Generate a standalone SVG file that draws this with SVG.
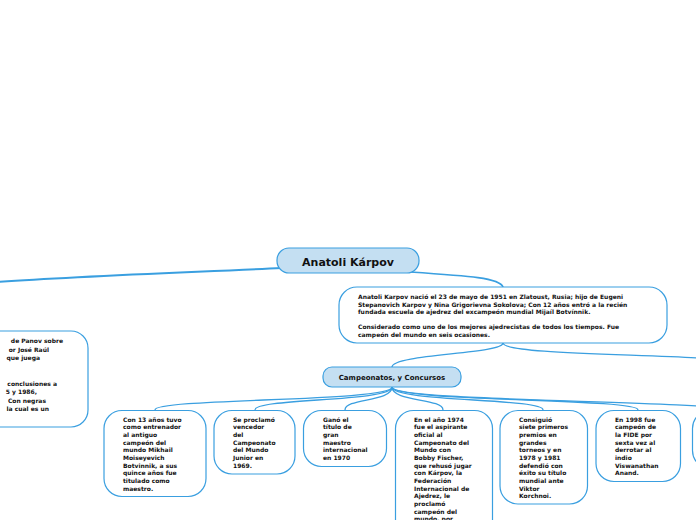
<svg xmlns="http://www.w3.org/2000/svg" width="696" height="520" viewBox="0 0 696 520">
<style>
.box{fill:#ffffff;stroke:#3a9fe0;stroke-width:1.2}
.hub{fill:#c4dff2;stroke:#3a9fe0;stroke-width:1.2}
.t{font-family:"DejaVu Sans","Liberation Sans",sans-serif;font-weight:bold;font-size:6px;fill:#111}
.c{fill:none;stroke:#3a9fe0;stroke-linecap:round}
</style>
<rect width="696" height="520" fill="#ffffff"/>
<g id="connectors">
<path class="c" stroke-width="2" d="M282,268 C200,272 80,276 -2,282"/>
<path class="c" stroke-width="1.6" d="M410,272 C470,276 500,278 503,287"/>
<path class="c" stroke-width="1.4" d="M503,343 C503,354 392,354 392,367"/>
<path class="c" stroke-width="1.4" d="M503,343 C503,354 640,354 698,358"/>
<path class="c" stroke-width="1.3" d="M392,387 C392,402 155,398 155,410"/>
<path class="c" stroke-width="1.3" d="M392,387 C392,402 255,398 255,410"/>
<path class="c" stroke-width="1.3" d="M392,387 C392,402 345,398 345,410"/>
<path class="c" stroke-width="1.3" d="M392,387 C392,402 443,398 443,410"/>
<path class="c" stroke-width="1.3" d="M392,387 C392,402 543,398 543,410"/>
<path class="c" stroke-width="1.3" d="M392,387 C392,402 638,398 638,410"/>
<path class="c" stroke-width="1.3" d="M392,387 C392,402 700,400 730,410"/>
</g>
<g id="root">
<rect class="hub" x="277" y="248" width="142" height="25" rx="12"/>
<text x="348" y="265.5" text-anchor="middle" style="font-family:'DejaVu Sans','Liberation Sans',sans-serif;font-weight:bold;font-size:11px;fill:#111">Anatoli Kárpov</text>
</g>
<g id="left-node">
<rect class="box" x="-40" y="331" width="128" height="96" rx="17"/>
<text class="t" text-anchor="end"><tspan x="63" y="343">de Panov sobre</tspan><tspan x="49" y="351.5">or José Raúl</tspan><tspan x="40" y="360">que juega</tspan><tspan x="57" y="385.5">conclusiones a</tspan><tspan x="37" y="394">5 y 1986,</tspan><tspan x="46" y="402.5">Con negras</tspan><tspan x="49" y="411">la cual es un</tspan></text>
</g>
<g id="info">
<rect class="box" x="339" y="287" width="328" height="56" rx="18"/>
<text class="t"><tspan x="358" y="299">Anatoli Karpov nació el 23 de mayo de 1951 en Zlatoust, Rusia; hijo de Eugeni</tspan><tspan x="358" y="306.5">Stepanovich Karpov y Nina Grigorievna Sokolova; Con 12 años entró a la recién</tspan><tspan x="358" y="314">fundada escuela de ajedrez del excampeón mundial Mijaíl Botvínnik.</tspan><tspan x="358" y="329">Considerado como uno de los mejores ajedrecistas de todos los tiempos. Fue</tspan><tspan x="358" y="336.5">campeón del mundo en seis ocasiones.</tspan></text>
</g>
<g id="campeonatos">
<rect class="hub" x="323" y="367" width="138" height="20" rx="9"/>
<text x="392" y="379.5" text-anchor="middle" style="font-family:'DejaVu Sans','Liberation Sans',sans-serif;font-weight:bold;font-size:7px;fill:#111">Campeonatos, y Concursos</text>
</g>
<g id="n1">
<rect class="box" x="104" y="410.5" width="102" height="86" rx="18"/>
<text class="t"><tspan x="123" y="421.5">Con 13 años tuvo</tspan><tspan x="123" y="429.2">como entrenador</tspan><tspan x="123" y="436.8">al antiguo</tspan><tspan x="123" y="444.5">campeón del</tspan><tspan x="123" y="452.2">mundo Mikhail</tspan><tspan x="123" y="459.8">Moiseyevich</tspan><tspan x="123" y="467.5">Botvinnik, a sus</tspan><tspan x="123" y="475.2">quince años fue</tspan><tspan x="123" y="482.8">titulado como</tspan><tspan x="123" y="490.5">maestro.</tspan></text>
</g>
<g id="n2">
<rect class="box" x="214" y="410.5" width="81" height="63.5" rx="18"/>
<text class="t"><tspan x="233" y="421.5">Se proclamó</tspan><tspan x="233" y="429.2">vencedor</tspan><tspan x="233" y="436.8">del</tspan><tspan x="233" y="444.5">Campeonato</tspan><tspan x="233" y="452.2">del Mundo</tspan><tspan x="233" y="459.8">Junior en</tspan><tspan x="233" y="467.5">1969.</tspan></text>
</g>
<g id="n3">
<rect class="box" x="303.5" y="410.5" width="83" height="56" rx="18"/>
<text class="t"><tspan x="323" y="421.5">Ganó el</tspan><tspan x="323" y="429.2">título de</tspan><tspan x="323" y="436.8">gran</tspan><tspan x="323" y="444.5">maestro</tspan><tspan x="323" y="452.2">internacional</tspan><tspan x="323" y="459.8">en 1970</tspan></text>
</g>
<g id="n4">
<rect class="box" x="395.5" y="410.5" width="97" height="130" rx="18"/>
<text class="t"><tspan x="414" y="421.5">En el año 1974</tspan><tspan x="414" y="429.2">fue el aspirante</tspan><tspan x="414" y="436.8">oficial al</tspan><tspan x="414" y="444.5">Campeonato del</tspan><tspan x="414" y="452.2">Mundo con</tspan><tspan x="414" y="459.8">Bobby Fischer,</tspan><tspan x="414" y="467.5">que rehusó jugar</tspan><tspan x="414" y="475.2">con Kárpov, la</tspan><tspan x="414" y="482.8">Federación</tspan><tspan x="414" y="490.5">Internacional de</tspan><tspan x="414" y="498.2">Ajedrez, le</tspan><tspan x="414" y="505.8">proclamó</tspan><tspan x="414" y="513.5">campeón del</tspan><tspan x="414" y="521.2">mundo, por</tspan></text>
</g>
<g id="n5">
<rect class="box" x="500" y="410.5" width="87.5" height="93.5" rx="18"/>
<text class="t"><tspan x="519" y="421.5">Consiguió</tspan><tspan x="519" y="429.2">siete primeros</tspan><tspan x="519" y="436.8">premios en</tspan><tspan x="519" y="444.5">grandes</tspan><tspan x="519" y="452.2">torneos y en</tspan><tspan x="519" y="459.8">1978 y 1981</tspan><tspan x="519" y="467.5">defendió con</tspan><tspan x="519" y="475.2">éxito su título</tspan><tspan x="519" y="482.8">mundial ante</tspan><tspan x="519" y="490.5">Viktor</tspan><tspan x="519" y="498.2">Korchnoi.</tspan></text>
</g>
<g id="n6">
<rect class="box" x="596" y="410.5" width="84.5" height="71" rx="18"/>
<text class="t"><tspan x="615" y="421.5">En 1998 fue</tspan><tspan x="615" y="429.2">campeón de</tspan><tspan x="615" y="436.8">la FIDE por</tspan><tspan x="615" y="444.5">sexta vez al</tspan><tspan x="615" y="452.2">derrotar al</tspan><tspan x="615" y="459.8">indio</tspan><tspan x="615" y="467.5">Viswanathan</tspan><tspan x="615" y="475.2">Anand.</tspan></text>
</g>
<g id="n7">
<rect class="box" x="692.5" y="410.5" width="80" height="58" rx="18"/>
</g>
</svg>
